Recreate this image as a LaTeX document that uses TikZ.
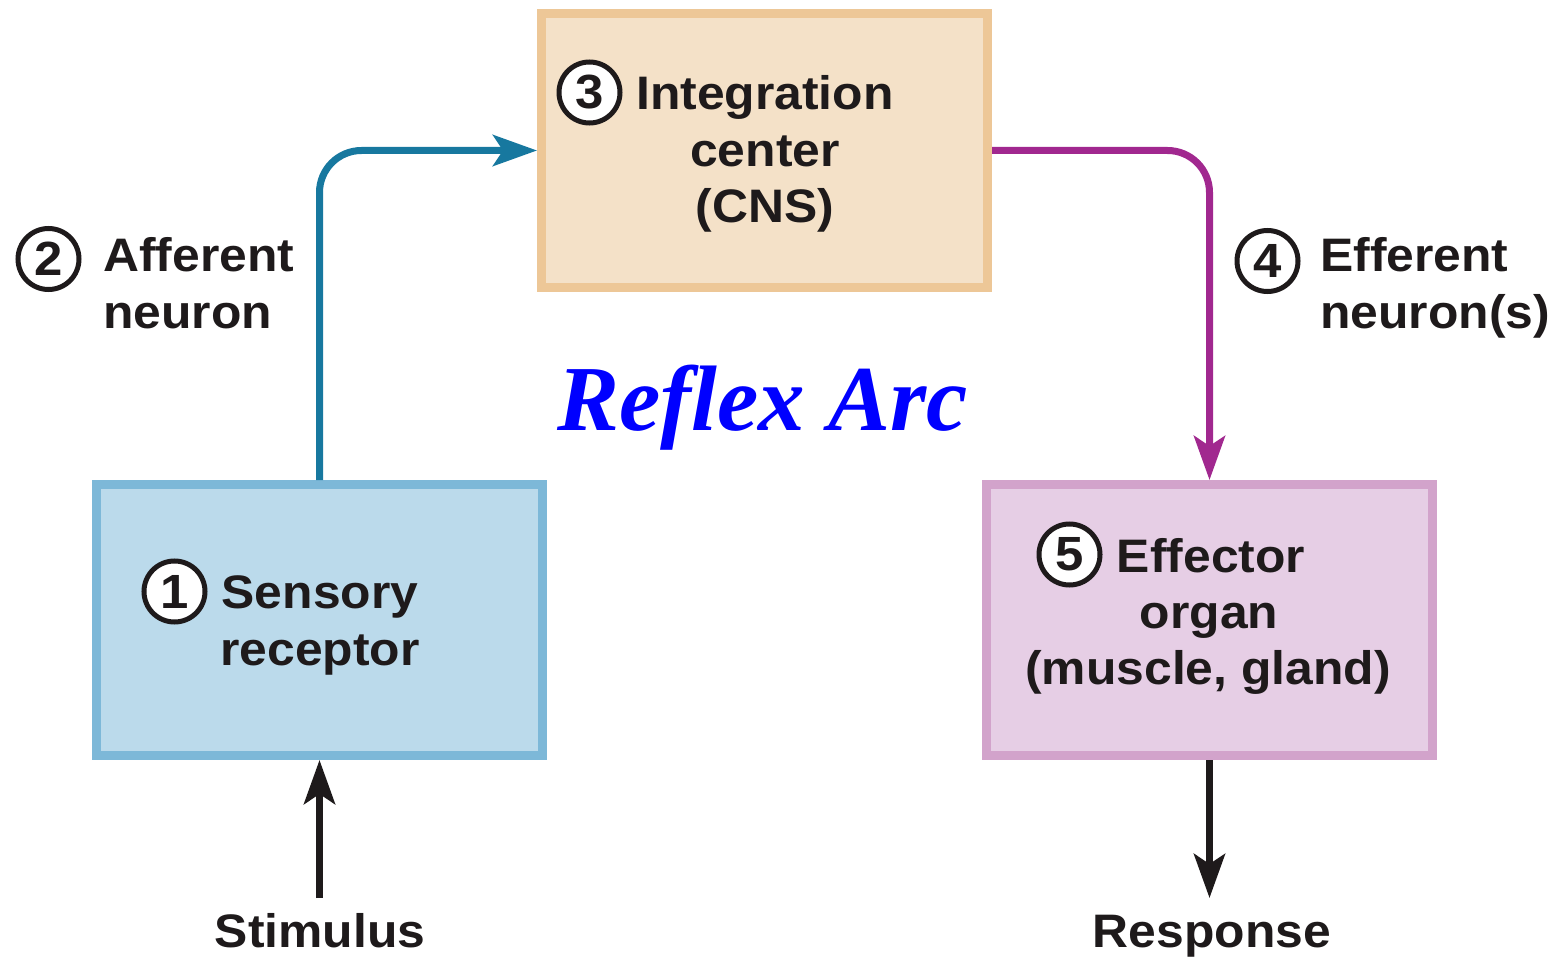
\documentclass[tikz,border=0pt]{standalone}
\usepackage{fontspec}
\setmainfont{Liberation Sans}[FakeStretch=1.06]
\newfontfamily\titlefont{Liberation Serif}
\usetikzlibrary{arrows.meta}
\definecolor{txt}{HTML}{1E1A1B}
\definecolor{cnsfill}{HTML}{F4E1C8}
\definecolor{cnsline}{HTML}{EDC797}
\definecolor{senfill}{HTML}{BBDAEB}
\definecolor{senline}{HTML}{7DB8D8}
\definecolor{efffill}{HTML}{E6CEE5}
\definecolor{effline}{HTML}{D2A3CB}
\definecolor{affarrow}{HTML}{17789F}
\definecolor{effarrow}{HTML}{A1288F}
\begin{document}
\begin{tikzpicture}[x=1pt,y=-1pt,
  box/.style={rectangle, line width=9pt, minimum width=446pt, inner sep=0pt},
  lbl/.style={inner sep=0pt, anchor=base, text=txt, font=\fontsize{47}{56}\selectfont\bfseries},
  lblw/.style={lbl, anchor=base west},
  numc/.style={circle, draw=txt, fill=white, line width=5pt, minimum size=61pt, inner sep=0pt, text=txt, font=\fontsize{48}{50}\selectfont\bfseries},
  conn/.style={line width=7pt, -{Stealth[length=44pt,width=31pt,inset=10pt]}}
]
\useasboundingbox (0,0) rectangle (1556,960);
% boxes
\node[box, draw=cnsline, fill=cnsfill, minimum height=274pt] (cns) at (764.5,150.5) {};
\node[box, draw=senline, fill=senfill, minimum height=271pt] (sen) at (319.5,620) {};
\node[box, draw=effline, fill=efffill, minimum height=271pt] (eff) at (1209.5,620) {};
% box texts
\node[numc] (c3) at (589.5,92.5) {3};
\node[lbl] (t3a) at (765,110) {Integration};
\node[lbl] (t3b) at (765,167) {center};
\node[lbl] (t3c) at (765,223) {(CNS)};
\node[numc] (c1) at (174.5,591.5) {1};
\node[lbl] (t1a) at (320,608) {Sensory};
\node[lbl] (t1b) at (320,665) {receptor};
\node[numc] (c5) at (1069.5,554.5) {5};
\node[lbl] (t5a) at (1211,572) {Effector};
\node[lbl] (t5b) at (1209,628) {organ};
\node[lbl] (t5c) at (1208,684) {(muscle, gland)};
% side labels
\node[numc] (c2) at (48.5,259) {2};
\node[lblw] (t2a) at (103,272) {Afferent};
\node[lblw] (t2b) at (103,328) {neuron};
\node[numc] (c4) at (1267.5,261) {4};
\node[lblw] (t4a) at (1320,272) {Efferent};
\node[lblw] (t4b) at (1320,328) {neuron(s)};
% title
\node[inner sep=0pt, anchor=base, text=blue, font=\fontsize{93}{100}\selectfont\titlefont\bfseries\itshape] (title) at (762.5,430) {Reflex Arc};
% stimulus / response
\node[lbl] (stim) at (320,947) {Stimulus};
\node[lbl] (resp) at (1212,947) {Response};
\coordinate (stimtail) at (319.5,898);
\coordinate (resptip) at (1209.5,898);
% connectors
\draw[conn, draw=affarrow, rounded corners=42pt] (sen.north) |- (cns.west);
\draw[conn, draw=effarrow, rounded corners=42pt] (cns.east) -| (eff.north);
\draw[conn, draw=txt] (stimtail) -- (sen.south);
\draw[conn, draw=txt] (eff.south) -- (resptip);
\end{tikzpicture}
\end{document}
